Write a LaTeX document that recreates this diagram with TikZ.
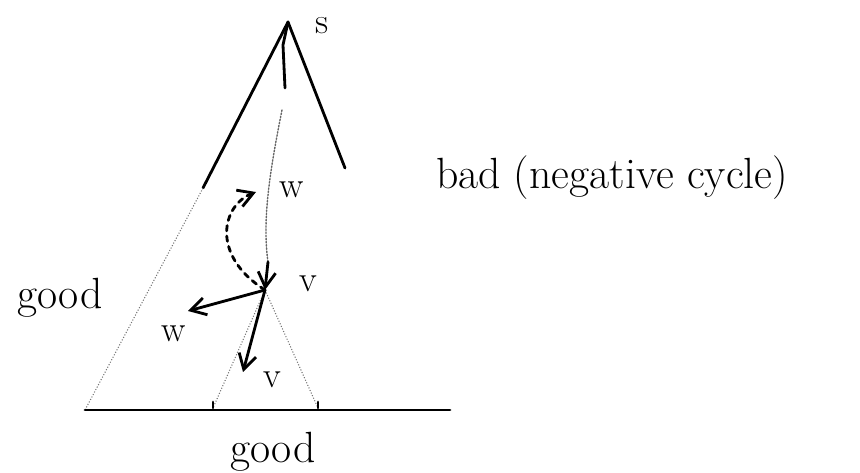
\documentclass[tikz,border=0pt]{standalone}
\usepackage{tikz}
\usetikzlibrary{
    arrows.meta,
    positioning,
    calc
}

\begin{document}
\begin{tikzpicture}[
    x=0.02cm, y=-0.02cm,
    pen/.style={
        line width=1.6pt,
        line cap=round
    },
    faint/.style={
        line width=0.6pt,
        densely dotted,
        black!55
    },
    arrow/.style={
        pen,
        -{Straight Barb[length=3mm, width=3.5mm]}
    },
    dashedarrow/.style={
        pen,
        dashed,
        -{Straight Barb[length=3mm, width=3.5mm]}
    },
    label/.style={
        font=\huge
    },
    biglabel/.style={
        font=\Huge
    }
]
\useasboundingbox (0,0) rectangle (860,473);

% Puntos principales
\coordinate (s) at (288,22);
\coordinate (lmid) at (203,188);
\coordinate (rend) at (345,168);
\coordinate (bl) at (85,410);
\coordinate (br) at (450,410);
\coordinate (v) at (265,290);
\coordinate (w) at (256,192);
\coordinate (wp) at (188,311);
\coordinate (dv) at (243,372);
\coordinate (sl) at (213,408);
\coordinate (sr) at (318,408);

% Triangulo exterior
\draw[pen] (s) -- (lmid);
\draw[faint] (lmid) -- (bl);
\draw[pen] (s) -- (rend);
\draw[pen] (bl) -- (br);

% Subarbol de v
\draw[faint] (v) -- (sl);
\draw[faint] (v) -- (sr);
\draw[pen] (sl) -- ++(0,-6);
\draw[pen] (sr) -- ++(0,-6);

% Camino de s a v
\draw[pen] (s) -- (283,45) -- (285,88);
\draw[faint, pen, line width=0.8pt, densely dotted, black!60]
    (282,110) .. controls (270,170) and (262,220) .. (268,262);
\draw[arrow] (268,262) -- (v);

% Flechas desde v
\draw[dashedarrow] (v) .. controls (210,255) and (222,205) .. (w);
\draw[arrow] (v) -- (wp);
\draw[arrow] (v) -- (dv);

% Etiquetas
\node[label] (slabel) at (322,26) {s};
\node[label] (wlabel) at (292,190) {w};
\node[label] (vlabel) at (308,284) {v};
\node[label] (wplabel) at (174,334) {w};
\node[label] (dvlabel) at (272,380) {v};
\node[biglabel] (goodleft) at (60,298) {good};
\node[biglabel] (goodbottom) at (273,452) {good};
\node[biglabel] (bad) at (612,178) {bad (negative cycle)};

\end{tikzpicture}
\end{document}
